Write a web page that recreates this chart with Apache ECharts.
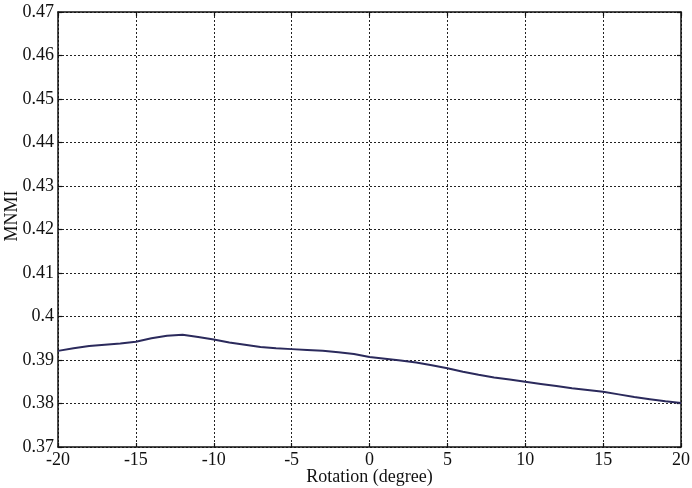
<!DOCTYPE html>
<html>
<head>
<meta charset="utf-8">
<script src="https://cdn.jsdelivr.net/npm/echarts@6/dist/echarts.min.js"></script>
<style>
html, body { margin: 0; padding: 0; background: #fff; }
#chart { width: 692px; height: 488px; }
</style>
</head>
<body>
<div id="chart"></div>
<script>
// rotation angle (degree)
var rotation = [-20, -19, -18, -17, -16, -15, -14, -13, -12, -11, -10, -9, -8, -7, -6, -5, -4, -3, -2, -1,
    0, 1, 2, 3, 4, 5, 6, 7, 8, 9, 10, 11, 12, 13, 14, 15, 16, 17, 18, 19, 20];
// MNMI
var mnmi = [0.3921, 0.3927, 0.3932, 0.3935, 0.3938, 0.3942, 0.3950, 0.3956, 0.3958, 0.3953,
    0.3947, 0.3940, 0.3935, 0.3930, 0.3927, 0.3925, 0.3923, 0.3921, 0.3918, 0.3914,
    0.3907, 0.3903, 0.3899, 0.3894, 0.3888, 0.3881, 0.3873, 0.3866, 0.3860, 0.3855,
    0.3850, 0.3845, 0.3840, 0.3835, 0.3831, 0.3827, 0.3821, 0.3815, 0.3810, 0.3805, 0.3801];
var xTicks = [-20, -15, -10, -5, 0, 5, 10, 15, 20];
var yTicks = ['0.37', '0.38', '0.39', '0.4', '0.41', '0.42', '0.43', '0.44', '0.45', '0.46', '0.47'];

var points = [];
for (var i = 0; i < rotation.length; i++) {
    points.push([rotation[i], mnmi[i]]);
}

var font = 'Liberation Serif';
var gridLine = {
    show: true,
    lineStyle: { color: '#222', type: [2, 2], width: 1 }
};
var axisBox = { show: true, onZero: false, lineStyle: { color: '#111', width: 1.5 } };
var tickIn = { show: true, inside: true, length: 4, lineStyle: { color: '#111', width: 1.2 } };

var chart = echarts.init(document.getElementById('chart'));
chart.setOption({
    animation: false,
    backgroundColor: '#fff',
    grid: { left: 58, right: 11, top: 12, bottom: 41, containLabel: false, outerBoundsMode: 'none' },
    xAxis: [{
        type: 'value',
        min: -20, max: 20, interval: 5,
        position: 'bottom',
        name: 'Rotation (degree)',
        nameLocation: 'middle',
        nameGap: 21,
        nameMoveOverlap: false,
        nameTextStyle: { fontFamily: font, fontSize: 18, color: '#111' },
        axisLine: axisBox,
        axisTick: tickIn,
        axisLabel: {
            fontFamily: font, fontSize: 18, color: '#111', margin: 4,
            formatter: function (v) { return xTicks.indexOf(v) >= 0 ? String(v) : ''; }
        },
        splitLine: gridLine
    }, {
        type: 'value',
        min: -20, max: 20, interval: 5,
        position: 'top',
        axisLine: axisBox,
        axisTick: tickIn,
        axisLabel: { show: false },
        splitLine: { show: false }
    }],
    yAxis: [{
        type: 'value',
        min: 0.37, max: 0.47, interval: 0.01,
        position: 'left',
        axisLine: axisBox,
        axisTick: tickIn,
        axisLabel: {
            fontFamily: font, fontSize: 18, color: '#111', margin: 4,
            formatter: function (v) {
                var k = Math.round((v - 0.37) * 100);
                return yTicks[k] || '';
            }
        },
        splitLine: gridLine
    }, {
        type: 'value',
        min: 0.37, max: 0.47, interval: 0.01,
        position: 'right',
        axisLine: axisBox,
        axisTick: tickIn,
        axisLabel: { show: false },
        splitLine: { show: false }
    }],
    graphic: [{
        type: 'text',
        x: 12, y: 216,
        rotation: Math.PI / 2,
        style: {
            text: 'MNMI',
            fontFamily: font, fontSize: 18, fill: '#111',
            align: 'center', verticalAlign: 'middle'
        }
    }],
    series: [{
        type: 'line',
        data: points,
        symbol: 'none',
        smooth: false,
        lineStyle: { color: '#2b2a5c', width: 2 }
    }]
});
</script>
</body>
</html>
